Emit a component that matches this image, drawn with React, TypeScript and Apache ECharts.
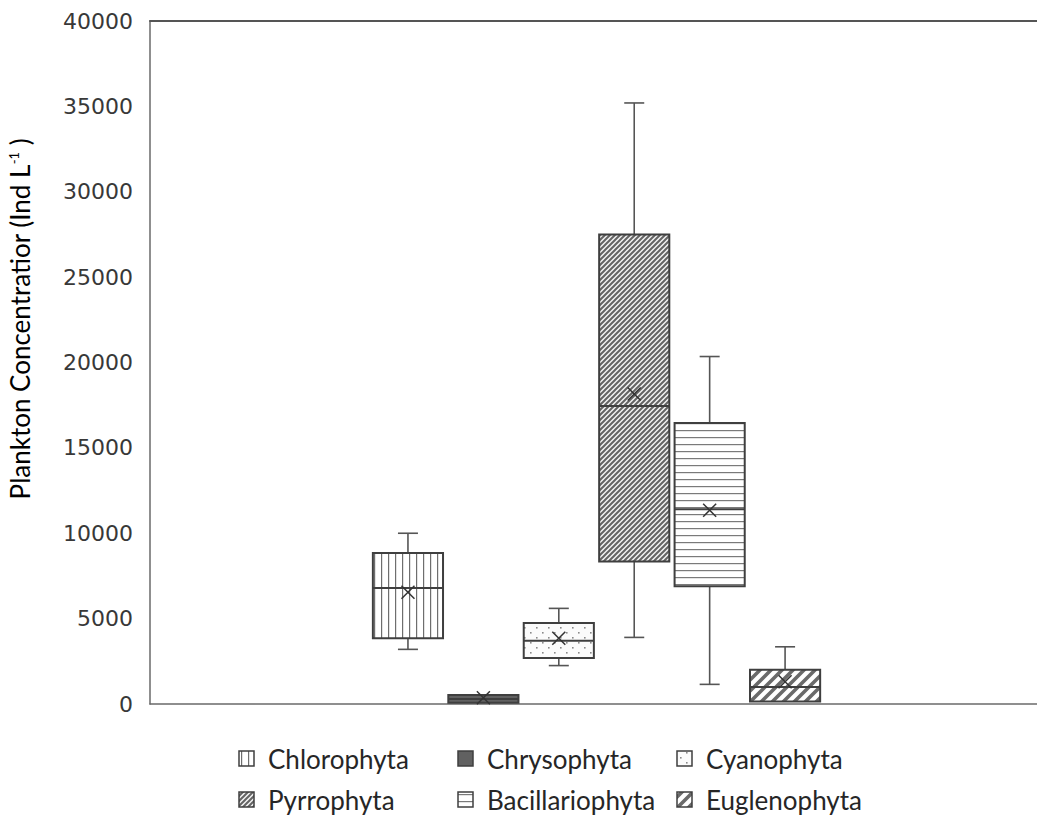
import React, { useEffect, useRef } from "react";
import * as echarts from "echarts";

const categories = ["Chlorophyta", "Chrysophyta", "Cyanophyta", "Pyrrophyta", "Bacillariophyta", "Euglenophyta"];
const minValues = [3200, 80, 2250, 3900, 1150, 140];
const q1Values = [3850, 80, 2700, 8350, 6900, 140];
const medianValues = [6800, 300, 3700, 17450, 11400, 1000];
const q3Values = [8850, 530, 4750, 27500, 16450, 2000];
const maxValues = [10000, 530, 5600, 35200, 20350, 3350];
const meanValues = [6550, 370, 3850, 18150, 11350, 1300];
const yTicks = { min: 0, max: 40000, interval: 5000 };

function makeCanvas(w: number, h: number, bg: string) {
  const c = document.createElement("canvas");
  c.width = w;
  c.height = h;
  const ctx = c.getContext("2d")!;
  ctx.fillStyle = bg;
  ctx.fillRect(0, 0, w, h);
  return { c, ctx };
}

function pattern(c: HTMLCanvasElement) {
  return { image: c, repeat: "repeat", imageWidth: c.width, imageHeight: c.height } as any;
}

function buildFills(): any[] {
  const v = makeCanvas(7, 7, "#ffffff");
  v.ctx.fillStyle = "#6e6e6e";
  v.ctx.fillRect(3, 0, 1.2, 7);
  const d = makeCanvas(12, 10, "#fbfbfb");
  d.ctx.fillStyle = "#8a8a8a";
  d.ctx.fillRect(2, 2, 1.6, 1.6);
  d.ctx.fillRect(8, 7, 1.6, 1.6);
  const s = 5;
  const p = makeCanvas(s, s, "#f2f2f2");
  p.ctx.strokeStyle = "#646464";
  p.ctx.lineWidth = 2;
  p.ctx.beginPath();
  for (let k = -1; k <= 1; k++) {
    p.ctx.moveTo(k * s - 1, s + 1);
    p.ctx.lineTo(k * s + s + 1, -1);
  }
  p.ctx.stroke();
  const h = makeCanvas(7, 7, "#ffffff");
  h.ctx.fillStyle = "#7a7a7a";
  h.ctx.fillRect(0, 3, 7, 1.2);
  const t = 11;
  const e = makeCanvas(t, t, "#ffffff");
  e.ctx.strokeStyle = "#6a6a6a";
  e.ctx.lineWidth = 3.6;
  e.ctx.beginPath();
  for (let k = -1; k <= 1; k++) {
    e.ctx.moveTo(k * t - 2, t + 2);
    e.ctx.lineTo(k * t + t + 2, -2);
  }
  e.ctx.stroke();
  return [pattern(v.c), "#616161", pattern(d.c), pattern(p.c), pattern(h.c), pattern(e.c)];
}

export default function App() {
  const ref = useRef<HTMLDivElement>(null);
  useEffect(() => {
    if (!ref.current) return;
    const chart = echarts.init(ref.current, null, { renderer: "svg" });
    const fills = buildFills();
    const data = categories.map((_, i) => [
      i,
      minValues[i],
      q1Values[i],
      medianValues[i],
      q3Values[i],
      maxValues[i],
      meanValues[i],
    ]);
    const stroke = "#3f3f3f";
    const whisker = "#555555";
    const axisColor = "#6a6a6a";

    const legendCols = [268, 487, 706];
    const legendRows = [759, 800];
    const legendGraphics: any[] = [];
    categories.forEach((name, i) => {
      const col = i % 3;
      const row = Math.floor(i / 3);
      const tx = legendCols[col];
      const ty = legendRows[row];
      legendGraphics.push({
        type: "rect",
        shape: { x: tx - 29, y: ty - 8, width: 15, height: 15 },
        style: { fill: fills[i], stroke: stroke, lineWidth: 1.5 },
      });
      legendGraphics.push({
        type: "text",
        x: tx,
        y: ty,
        style: {
          text: name,
          font: "26px Lato",
          fill: "#262626",
          textVerticalAlign: "middle",
          textAlign: "left",
        },
      });
    });

    const xCommon = {
      type: "value",
      min: -3.42,
      max: 8.34,
      axisLine: { show: true, onZero: false, lineStyle: { color: axisColor, width: 1.5 } },
      axisTick: { show: false },
      axisLabel: { show: false },
      splitLine: { show: false },
    };

    chart.setOption({
      animation: false,
      grid: {
        left: 150,
        top: 21,
        right: 0,
        height: 683,
        show: false,
      },
      xAxis: [
        { ...xCommon, position: "bottom" },
        { ...xCommon, position: "top", axisLine: { show: true, onZero: false, lineStyle: { color: "#555555", width: 2 } } },
      ],
      yAxis: {
        type: "value",
        min: yTicks.min,
        max: yTicks.max,
        interval: yTicks.interval,
        axisLine: { show: true, onZero: false, lineStyle: { color: axisColor, width: 1.5 } },
        axisTick: { show: false },
        splitLine: { show: false },
        axisLabel: {
          margin: 17,
          color: "#383838",
          fontFamily: "DejaVu Sans",
          fontSize: 22,
          formatter: (v: number) => String(v),
        },
      },
      graphic: [
        {
          type: "text",
          x: 20,
          y: 319,
          rotation: Math.PI / 2,
          style: {
            text: "{a|Plankton Concentratior (Ind L}{s|-1}{a| )}",
            textAlign: "center",
            textVerticalAlign: "middle",
            rich: {
              a: { fontFamily: "Lato", fontSize: 26, color: "#404040" },
              s: { fontFamily: "Lato", fontSize: 13, color: "#404040", verticalAlign: "top", padding: [0, 0, 12, 0] },
            },
          },
        },
        ...legendGraphics,
      ],
      series: [
        {
          type: "custom",
          clip: false,
          xAxisIndex: 0,
          encode: { x: 0, y: [1, 2, 3, 4, 5] },
          data,
          renderItem: (params: any, api: any) => {
            const idx = api.value(0);
            const x = api.coord([idx, 0])[0];
            const yMin = api.coord([idx, api.value(1)])[1];
            const yQ1 = api.coord([idx, api.value(2)])[1];
            const yMed = api.coord([idx, api.value(3)])[1];
            const yQ3 = api.coord([idx, api.value(4)])[1];
            const yMax = api.coord([idx, api.value(5)])[1];
            const yMean = api.coord([idx, api.value(6)])[1];
            const bw = api.size([1, 0])[0] * 0.93;
            const cap = 10;
            const children: any[] = [];
            if (api.value(5) > api.value(4)) {
              children.push({ type: "line", shape: { x1: x, y1: yQ3, x2: x, y2: yMax }, style: { stroke: whisker, lineWidth: 1.6 } });
              children.push({ type: "line", shape: { x1: x - cap, y1: yMax, x2: x + cap, y2: yMax }, style: { stroke: whisker, lineWidth: 1.6 } });
            }
            if (api.value(1) < api.value(2)) {
              children.push({ type: "line", shape: { x1: x, y1: yQ1, x2: x, y2: yMin }, style: { stroke: whisker, lineWidth: 1.6 } });
              children.push({ type: "line", shape: { x1: x - cap, y1: yMin, x2: x + cap, y2: yMin }, style: { stroke: whisker, lineWidth: 1.6 } });
            }
            children.push({
              type: "rect",
              shape: { x: x - bw / 2, y: yQ3, width: bw, height: yQ1 - yQ3 },
              style: { fill: fills[params.dataIndex], stroke: stroke, lineWidth: 2 },
            });
            children.push({ type: "line", shape: { x1: x - bw / 2, y1: yMed, x2: x + bw / 2, y2: yMed }, style: { stroke: stroke, lineWidth: 2 } });
            const m = 6.5;
            children.push({ type: "line", shape: { x1: x - m, y1: yMean - m, x2: x + m, y2: yMean + m }, style: { stroke: "#333333", lineWidth: 1.5 } });
            children.push({ type: "line", shape: { x1: x - m, y1: yMean + m, x2: x + m, y2: yMean - m }, style: { stroke: "#333333", lineWidth: 1.5 } });
            return { type: "group", children };
          },
        },
      ],
    });
    return () => chart.dispose();
  }, []);
  return (
    <div
      ref={ref}
      style={{ position: "absolute", left: 0, top: 0, width: 1037, height: 817 }}
    />
  );
}
